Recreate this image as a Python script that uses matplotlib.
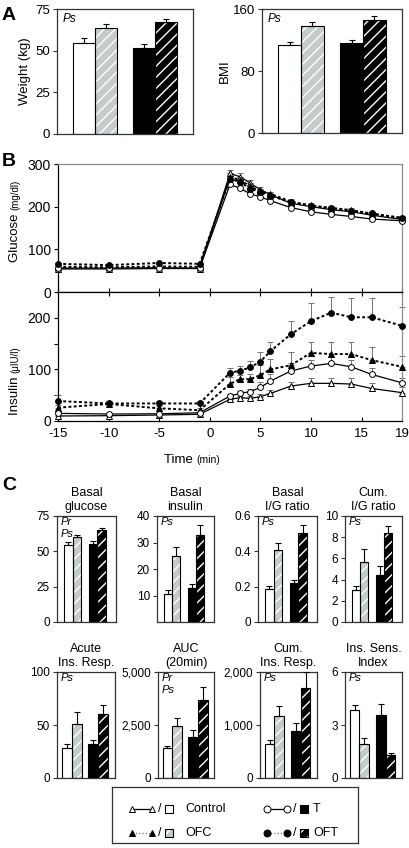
import numpy as np
import matplotlib
matplotlib.use("Agg")
import matplotlib.pyplot as plt
from matplotlib.patches import Rectangle
from matplotlib.lines import Line2D

plt.rcParams['font.family'] = ['Liberation Sans', 'DejaVu Sans']
plt.rcParams['axes.unicode_minus'] = False
plt.rcParams['hatch.linewidth'] = 1.0

W, H = 410, 848

# -----------------------------------------------------------------------------
# Data
# -----------------------------------------------------------------------------
groups = ['Control', 'OFC', 'T', 'OFT']

# Panel A
weight = [54.5, 63.5, 51.5, 67.0]
weight_err = [3.0, 2.3, 2.6, 1.8]
bmi = [113.5, 138.5, 115.5, 146.0]
bmi_err = [3.4, 4.3, 4.3, 5.0]

# Panel B (time in min)
time = [-15, -10, -5, -1, 2, 3, 4, 5, 6, 8, 10, 12, 14, 16, 19]

glu_ctl = [54, 54, 55, 55, 278, 270, 255, 240, 228, 208, 200, 193, 188, 180, 170]
glu_ofc = [59, 58, 60, 59, 270, 262, 248, 236, 230, 212, 203, 197, 192, 183, 174]
glu_t = [56, 56, 57, 56, 252, 243, 230, 223, 214, 198, 188, 182, 177, 171, 167]
glu_oft = [66, 63, 68, 66, 265, 258, 242, 235, 226, 210, 202, 196, 191, 184, 173]
glu_ctl_err = [3, 3, 3, 3, 9, 8, 8, 7, 6, 5, 5, 4, 4, 4, 4]
glu_ofc_err = [3, 3, 3, 3, 8, 8, 7, 6, 5, 5, 5, 4, 4, 4, 4]
glu_t_err = [2, 2, 2, 2, 7, 7, 6, 6, 5, 5, 4, 4, 4, 4, 4]
glu_oft_err = [3, 3, 3, 3, 8, 7, 7, 6, 5, 5, 5, 4, 4, 4, 4]

ins_ctl = [9.7, 10.3, 11.6, 13, 42, 45, 44, 47, 53.5, 67.7, 73, 73, 71.6, 63, 55]
ins_ofc = [25.8, 33, 24.5, 21, 72, 81, 81, 89, 100, 108, 132, 129.7, 129.7, 118, 105]
ins_t = [14.8, 13.5, 14, 16, 48.4, 53.5, 57, 65, 77.4, 96.8, 106.5, 111.6, 105, 90.3, 74]
ins_oft = [38.7, 34, 34, 34, 93.5, 97.4, 104, 115, 135.5, 168, 193.5, 210, 201, 201, 184.5]
ins_ctl_err = [2, 2, 2, 2, 4, 4, 4, 5, 6, 8, 9.6, 11, 11, 11, 11.5]
ins_ofc_err = [5, 4, 4, 4, 13, 9, 11, 19, 20, 25, 21.5, 24, 24, 24.6, 21.5]
ins_t_err = [3, 2, 2, 2, 4, 4, 5, 11, 13.6, 15, 12, 12, 14, 12, 10]
ins_oft_err = [11, 4, 4, 4, 8.5, 10, 12, 19, 18, 25.5, 35, 30, 38, 38, 37]

# Panel C
basal_glucose = [54.3, 59.8, 55.5, 65.0]
basal_glucose_err = [2.0, 1.5, 1.5, 1.5]
basal_insulin = [10.7, 24.8, 13.0, 33.0]
basal_insulin_err = [1.2, 3.5, 1.5, 3.6]
basal_ig = [0.189, 0.41, 0.219, 0.503]
basal_ig_err = [0.015, 0.04, 0.02, 0.047]
cum_ig = [3.0, 5.65, 4.4, 8.4]
cum_ig_err = [0.4, 1.2, 0.85, 0.65]
acute = [28.3, 51.3, 32.0, 60.0]
acute_err = [3.7, 11.0, 3.5, 9.0]
auc = [1415, 2437, 1918, 3680]
auc_err = [110, 410, 360, 600]
cum_ins = [641, 1164, 887, 1698]
cum_ins_err = [70, 195, 157, 300]
isi = [3.87, 1.94, 3.58, 1.28]
isi_err = [0.28, 0.34, 0.6, 0.15]

# -----------------------------------------------------------------------------
# Styles
# -----------------------------------------------------------------------------
bar_face = ['white', '#c3cbcb', 'black', 'black']
bar_hatch = [None, '///', None, '///']
hatch_col = ['black', 'white', 'black', 'white']
FRAME = '0.2'

fig = plt.figure(figsize=(W / 100, H / 100), dpi=100)


def px_axes(left, top, width, height):
    return fig.add_axes([left / W, 1 - (top + height) / H, width / W, height / H])


def draw_bars(ax, vals, errs, xpos, xlim, ylim, yticks, yticklabels, fs):
    for x, v, fc, h, hc in zip(xpos, vals, bar_face, bar_hatch, hatch_col):
        ax.bar(x, v, width=1.0, color=fc, edgecolor=hc, hatch=h, linewidth=0, zorder=2)
        ax.bar(x, v, width=1.0, fill=False, edgecolor='black', linewidth=0.8, zorder=3)
    ax.errorbar(xpos, vals, yerr=[np.zeros(len(vals)), errs], fmt='none', ecolor='black',
                elinewidth=0.8, capsize=2, capthick=0.8, zorder=4)
    ax.set_xlim(*xlim)
    ax.set_ylim(*ylim)
    ax.set_xticks([])
    ax.set_yticks(yticks)
    ax.set_yticklabels(yticklabels, fontsize=fs)
    ax.tick_params(axis='y', direction='out', length=3, width=0.8, pad=2, color=FRAME)
    for sp in ax.spines.values():
        sp.set_color(FRAME)
        sp.set_linewidth(0.9)


def tag(ax, lines, fs=8, x=0.05, y=0.98, step=0.1):
    for i, s in enumerate(lines):
        ax.text(x, y - i * step, s, transform=ax.transAxes, style='italic',
                fontsize=fs, va='top', ha='left', zorder=5)


# -----------------------------------------------------------------------------
# Panel A
# -----------------------------------------------------------------------------
xA = [0, 1, 2.72, 3.72]
axw = px_axes(57, 9, 136, 125)
draw_bars(axw, weight, weight_err, xA, (-1.22, 4.94), (0, 75), [0, 25, 50, 75],
          ['0', '25', '50', '75'], 9.5)
axw.set_ylabel('Weight (kg)', fontsize=9.5)
axw.yaxis.set_label_coords(-0.19, 0.5)
tag(axw, ['Ps'], fs=8.5, x=0.04, y=0.97)

axb = px_axes(262, 9, 140, 124)
draw_bars(axb, bmi, bmi_err, xA, (-1.22, 4.94), (0, 160), [0, 80, 160],
          ['0', '80', '160'], 9.5)
axb.set_ylabel('BMI', fontsize=9.5)
axb.yaxis.set_label_coords(-0.22, 0.5)
tag(axb, ['Ps'], fs=8.5, x=0.04, y=0.97)

# -----------------------------------------------------------------------------
# Panel B
# -----------------------------------------------------------------------------
series = [
    ('Control', '^', 'white', '-', 0.9),
    ('OFC', '^', 'black', (0, (1.5, 1.2)), 1.4),
    ('T', 'o', 'white', '-', 0.9),
    ('OFT', 'o', 'black', (0, (1.5, 1.2)), 1.4),
]
glu = [glu_ctl, glu_ofc, glu_t, glu_oft]
glu_err = [glu_ctl_err, glu_ofc_err, glu_t_err, glu_oft_err]
ins = [ins_ctl, ins_ofc, ins_t, ins_oft]
ins_err = [ins_ctl_err, ins_ofc_err, ins_t_err, ins_oft_err]

axg = px_axes(58, 164, 344, 128)
axi = px_axes(58, 292, 344, 129)

for ax, data, errs in [(axg, glu, glu_err), (axi, ins, ins_err)]:
    for (name, mk, mfc, ls, lw), vals, err in zip(series, data, errs):
        ax.errorbar(time, vals, yerr=[np.zeros(len(vals)), err], fmt='none',
                    ecolor='0.45', elinewidth=0.7, capsize=2.5, capthick=0.7,
                    zorder=2, clip_on=False)
        ax.plot(time, vals, color='black', linestyle=ls, linewidth=lw, marker=mk,
                markersize=4.2, markerfacecolor=mfc, markeredgecolor='black',
                markeredgewidth=0.7, zorder=3, clip_on=False)
    ax.set_xlim(-15, 19)
    ax.set_xticks([-15, -10, -5, 0, 5, 10, 15, 19])
    ax.tick_params(axis='x', direction='in', length=3, width=0.8)
    ax.tick_params(axis='y', direction='out', length=3, width=0.8, labelsize=10, pad=2)
    ax.spines['left'].set_color('black')
    ax.spines['right'].set_color('0.55')
    for sp in ax.spines.values():
        sp.set_linewidth(0.9)

axg.set_ylim(0, 300)
axg.set_yticks([0, 100, 200, 300])
axg.tick_params(axis='x', labelbottom=False)
axg.spines['top'].set_color('0.55')
axg.spines['bottom'].set_color('black')

axi.set_ylim(0, 250)
axi.set_yticks([0, 100, 200])
axi.set_yticks([50, 150], minor=True)
axi.tick_params(axis='y', which='minor', direction='out', length=3, width=0.8)
axi.tick_params(axis='x', top=True, labelsize=9.5, pad=5)
axi.spines['top'].set_color('black')
axi.spines['bottom'].set_color('black')

# split-size axis labels
t1 = fig.text(15 / W, 1 - 262 / H, 'Glucose ', rotation=90, fontsize=9.5,
              ha='center', va='bottom')
axg.annotate('(mg/dl)', xy=(0.5, 1), xycoords=t1, rotation=90, fontsize=7,
             ha='center', va='bottom', annotation_clip=False)
t2 = fig.text(15 / W, 1 - 415 / H, 'Insulin ', rotation=90, fontsize=9.5,
              ha='center', va='bottom')
axi.annotate('(\u03bcIU/l)', xy=(0.5, 1), xycoords=t2, rotation=90, fontsize=7,
             ha='center', va='bottom', annotation_clip=False)
t3 = fig.text(164 / W, 1 - 460 / H, 'Time ', fontsize=9.5, ha='left', va='center')
axi.annotate('(min)', xy=(1, 0.5), xycoords=t3, fontsize=7.5, ha='left',
             va='center', annotation_clip=False)

# -----------------------------------------------------------------------------
# Panel C
# -----------------------------------------------------------------------------
x1 = [0, 1, 2.88, 3.88]
xl1 = (-1.32, 5.55)
x2 = [0, 1, 2.67, 3.67]
xl2 = (-0.97, 4.84)

row1 = [
    ('Basal\nglucose', basal_glucose, basal_glucose_err, (0, 75), [0, 25, 50, 75],
     ['0', '25', '50', '75'], ['Pr', 'Ps']),
    ('Basal\ninsulin', basal_insulin, basal_insulin_err, (0, 40), [10, 20, 30, 40],
     ['10', '20', '30', '40'], ['Ps']),
    ('Basal\nI/G ratio', basal_ig, basal_ig_err, (0, 0.6), [0, 0.2, 0.4, 0.6],
     ['0', '0.2', '0.4', '0.6'], ['Ps']),
    ('Cum.\nI/G ratio', cum_ig, cum_ig_err, (0, 10), [0, 2, 4, 6, 8, 10],
     ['0', '2', '4', '6', '8', '10'], ['Ps']),
]
row2 = [
    ('Acute\nIns. Resp.', acute, acute_err, (0, 100), [0, 50, 100],
     ['0', '50', '100'], ['Ps']),
    ('AUC\n(20min)', auc, auc_err, (0, 5000), [0, 2500, 5000],
     ['0', '2,500', '5,000'], ['Pr', 'Ps']),
    ('Cum.\nIns. Resp.', cum_ins, cum_ins_err, (0, 2000), [0, 1000, 2000],
     ['0', '1,000', '2,000'], ['Ps']),
    ('Ins. Sens.\nIndex', isi, isi_err, (0, 6), [0, 3, 6],
     ['0', '3', '6'], ['Ps']),
]
lefts1 = [57, 157, 258, 345]
widths1 = [59, 57, 59, 57]
lefts2 = [57, 158, 260, 345]
widths2 = [58, 56, 57, 57]

for specs, lefts, widths, top, xp, xl in [(row1, lefts1, widths1, 516, x1, xl1),
                                          (row2, lefts2, widths2, 672, x2, xl2)]:
    for (title, vals, errs, ylim, yt, ytl, tags), l, w in zip(specs, lefts, widths):
        ax = px_axes(l, top, w, 106)
        draw_bars(ax, vals, errs, xp, xl, ylim, yt, ytl, 8.5)
        ax.set_title(title, fontsize=9, pad=4, linespacing=1.25)
        tag(ax, tags, fs=8, x=0.06, y=0.99, step=0.11)

# -----------------------------------------------------------------------------
# Legend
# -----------------------------------------------------------------------------
axl = px_axes(112, 787, 246, 56)
axl.set_xlim(0, 246)
axl.set_ylim(56, 0)
axl.set_xticks([])
axl.set_yticks([])
for sp in axl.spines.values():
    sp.set_linewidth(0.9)
    sp.set_color(FRAME)

leg_rows = [22, 46]
leg_cols = [20, 155]
for i, ((name, mk, mfc, ls, lw), fc, h, hc) in enumerate(zip(series, bar_face, bar_hatch, hatch_col)):
    cx = leg_cols[i // 2]
    cy = leg_rows[i % 2]
    lcol = 'black' if ls == '-' else '0.45'
    axl.add_line(Line2D([cx, cx + 20], [cy, cy], color=lcol, linestyle=ls if ls == '-' else ':',
                        linewidth=0.9, marker=mk, markersize=5, markerfacecolor=mfc,
                        markeredgecolor='black', markeredgewidth=0.7))
    axl.text(cx + 28, cy, '/', fontsize=9, ha='center', va='center')
    axl.add_patch(Rectangle((cx + 33, cy - 4), 8, 8, facecolor=fc, edgecolor=hc,
                            hatch=h, linewidth=0))
    axl.add_patch(Rectangle((cx + 33, cy - 4), 8, 8, fill=False, edgecolor='black',
                            linewidth=0.8))
    axl.text(cx + 53 if i < 2 else cx + 46, cy, name, fontsize=9, ha='left', va='center')

# panel letters
for letter, x, y in [('A', 2, 16), ('B', 2, 161), ('C', 2, 485)]:
    fig.text(x / W, 1 - y / H, letter, fontsize=14, fontweight='bold',
             ha='left', va='center')

fig.savefig('out.png', dpi=100)
